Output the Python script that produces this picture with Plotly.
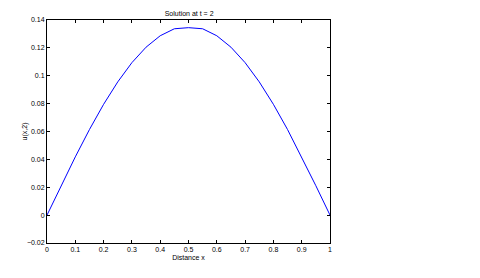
import plotly.graph_objects as go

x_vals = [0.0, 0.05, 0.1, 0.15, 0.2, 0.25, 0.3, 0.35, 0.4, 0.45, 0.5,
          0.55, 0.6, 0.65, 0.7, 0.75, 0.8, 0.85, 0.9, 0.95, 1.0]
u_vals = [0.0, 0.0211, 0.0418, 0.0614, 0.0795, 0.0956, 0.1094, 0.1205, 0.1287, 0.1337, 0.1345,
          0.1337, 0.1287, 0.1205, 0.1094, 0.0956, 0.0795, 0.0614, 0.0418, 0.0211, 0.0]
x_ticks = [0, 0.1, 0.2, 0.3, 0.4, 0.5, 0.6, 0.7, 0.8, 0.9, 1]
x_tick_labels = ["0", "0.1", "0.2", "0.3", "0.4", "0.5", "0.6", "0.7", "0.8", "0.9", "1"]
y_ticks = [-0.02, 0, 0.02, 0.04, 0.06, 0.08, 0.1, 0.12, 0.14]
y_tick_labels = ["\u22120.02", "0", "0.02", "0.04", "0.06", "0.08", "0.1", "0.12", "0.14"]

font = dict(family="Liberation Sans, Arial, sans-serif", size=7, color="black")

fig = go.Figure()
fig.add_trace(go.Scatter(x=x_vals, y=u_vals, mode="lines",
                         line=dict(color="#0000ff", width=1), showlegend=False))

axis_common = dict(showgrid=False, zeroline=False, showline=True, linecolor="black",
                   linewidth=1, mirror="ticks", ticks="inside", ticklen=3,
                   tickcolor="black", tickfont=font)

fig.update_layout(
    width=480, height=278,
    margin=dict(l=47, r=150, t=20, b=35),
    paper_bgcolor="white", plot_bgcolor="white",
    title=dict(text="Solution at t = 2", x=0.394, xanchor="center", y=0.95, yanchor="middle",
               font=font),
    xaxis=dict(range=[0, 1], tickvals=x_ticks, ticktext=x_tick_labels,
               title=dict(text="Distance x", font=font, standoff=2), **axis_common),
    yaxis=dict(range=[-0.02, 0.14], tickvals=y_ticks, ticktext=y_tick_labels, **axis_common),
    annotations=[dict(text="u(x,2)", xref="paper", yref="paper", x=-0.078, y=0.5,
                      xanchor="center", yanchor="middle", textangle=-90,
                      showarrow=False, font=font)],
)

fig.write_html("out.html")
